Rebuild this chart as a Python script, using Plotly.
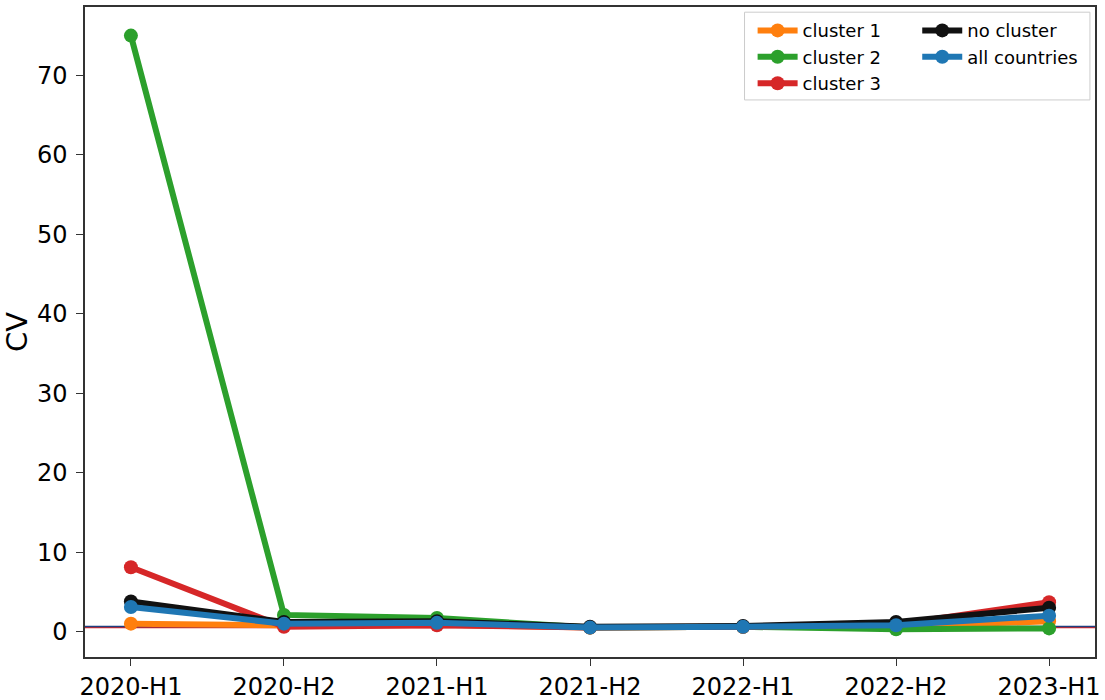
import plotly.graph_objects as go

periods = ["2020-H1", "2020-H2", "2021-H1", "2021-H2", "2022-H1", "2022-H2", "2023-H1"]

cluster_1 = [1.0, 0.8, 0.9, 0.5, 0.6, 0.6, 1.3]
cluster_2 = [75.0, 2.1, 1.7, 0.5, 0.6, 0.3, 0.4]
cluster_3 = [8.1, 0.6, 0.8, 0.5, 0.6, 0.9, 3.7]
no_cluster = [3.8, 1.2, 1.3, 0.6, 0.7, 1.2, 3.0]
all_countries = [3.1, 1.0, 1.1, 0.5, 0.6, 0.8, 2.0]

threshold = 0.5

# (name, values, colour, legend, rank) - drawn in this order
series = [
    ("cluster 1", cluster_1, "#ff7f0e", "legend", 1),
    ("cluster 2", cluster_2, "#2ca02c", "legend", 2),
    ("cluster 3", cluster_3, "#d62728", "legend", 3),
    ("no cluster", no_cluster, "#111111", "legend2", 4),
    ("all countries", all_countries, "#1f77b4", "legend2", 5),
]

fig = go.Figure()
for name, vals, color, leg, rank in series:
    fig.add_trace(go.Scatter(
        x=list(range(len(periods))), y=vals, name=name,
        mode="lines+markers",
        line=dict(color=color, width=6),
        marker=dict(color=color, size=14),
        legend=leg, legendrank=rank))

# reference line
fig.add_shape(type="line", xref="paper", x0=0, x1=1, y0=threshold, y1=threshold,
              line=dict(color="#d62728", width=1.5), layer="below")
fig.add_shape(type="line", xref="paper", x0=0, x1=1, y0=threshold + 0.15, y1=threshold + 0.15,
              line=dict(color="#1f3f7f", width=1.5), layer="below")

# legend frame
fig.add_shape(type="rect", xref="paper", yref="paper",
              x0=0.653, x1=0.995, y0=0.857, y1=0.992,
              line=dict(color="#cccccc", width=1), fillcolor="rgba(255,255,255,0.8)",
              layer="below")

font = "DejaVu Sans, sans-serif"
leg_common = dict(bgcolor="rgba(0,0,0,0)", borderwidth=0,
                  font=dict(family=font, size=18, color="black"),
                  xanchor="left", yanchor="top", tracegroupgap=0,
                  itemwidth=40)

axis_common = dict(showgrid=False, zeroline=False, showline=True, linecolor="#333333",
                   linewidth=1.5, mirror=True, ticks="outside", ticklen=7,
                   tickcolor="#333333", automargin=False)

fig.update_layout(
    width=1105, height=700,
    margin=dict(l=85, r=10, t=7, b=43),
    plot_bgcolor="white", paper_bgcolor="white",
    font=dict(family=font, size=24, color="black"),
    legend=dict(x=0.661, y=0.992, **leg_common),
    legend2=dict(x=0.824, y=0.992, **leg_common),
    xaxis=dict(
        range=[-0.3, 6.3], tickmode="array",
        tickvals=list(range(len(periods))), ticktext=periods,
        **axis_common),
    yaxis=dict(
        range=[-3.2, 78.6], tickvals=[0, 10, 20, 30, 40, 50, 60, 70],
        title=dict(text="CV", standoff=12), ticklabelstandoff=4,
        **axis_common),
)

fig.write_html("out.html", config={"displayModeBar": False},
               post_script="document.body.style.margin='0';")
